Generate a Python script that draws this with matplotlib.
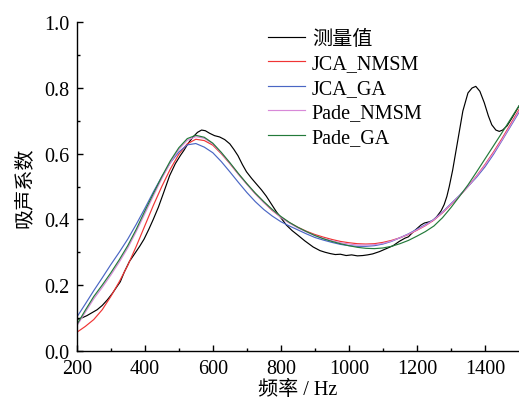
import numpy as np
import matplotlib
matplotlib.use('Agg')
import matplotlib.pyplot as plt

plt.rcParams['font.family'] = ['Liberation Serif', 'Noto Sans CJK SC']
plt.rcParams['font.size'] = 14.5
plt.rcParams['axes.unicode_minus'] = False

# measured curve
meas_f = [200, 215, 230, 245, 260, 275, 290, 305, 318, 328, 340, 355, 370, 385,
          398, 412, 425, 440, 455, 473, 490, 505, 515, 528, 542, 555, 567, 578,
          591, 605, 620, 635, 650, 662, 674, 687, 699, 714, 728, 743, 757, 772,
          787, 800, 816, 833, 850, 870, 895, 915, 930, 945, 960, 975, 992, 1008,
          1025, 1041, 1055, 1070, 1090, 1110, 1130, 1148, 1165, 1175, 1188, 1200,
          1212, 1222, 1234, 1246, 1258, 1271, 1280, 1288, 1295, 1305, 1315, 1325,
          1335, 1350, 1362, 1373, 1385, 1398, 1410, 1420, 1432, 1442, 1452, 1465,
          1480, 1500]
meas = [0.095, 0.100, 0.107, 0.116, 0.125, 0.138, 0.155, 0.175, 0.195, 0.210,
        0.240, 0.272, 0.295, 0.318, 0.340, 0.370, 0.400, 0.437, 0.480, 0.533,
        0.570, 0.595, 0.610, 0.632, 0.651, 0.665, 0.672, 0.670, 0.662, 0.655,
        0.651, 0.643, 0.630, 0.613, 0.594, 0.567, 0.545, 0.525, 0.508, 0.490,
        0.471, 0.447, 0.423, 0.405, 0.383, 0.366, 0.352, 0.335, 0.316, 0.305,
        0.300, 0.296, 0.293, 0.294, 0.290, 0.292, 0.289, 0.290, 0.292, 0.295,
        0.302, 0.311, 0.320, 0.333, 0.343, 0.347, 0.361, 0.372, 0.383, 0.389,
        0.392, 0.396, 0.408, 0.426, 0.445, 0.470, 0.500, 0.550, 0.610, 0.670,
        0.730, 0.785, 0.800, 0.805, 0.790, 0.755, 0.715, 0.688, 0.672, 0.668,
        0.672, 0.685, 0.710, 0.745]

# fitted curves, every 25 Hz
freq = list(range(200, 1501, 25))
jca_nmsm = [0.056, 0.074, 0.095, 0.125, 0.165, 0.210, 0.260, 0.318, 0.380,
            0.442, 0.500, 0.553, 0.598, 0.630, 0.644, 0.640, 0.626, 0.600,
            0.570, 0.538, 0.508, 0.478, 0.452, 0.427, 0.407, 0.390, 0.376,
            0.364, 0.354, 0.346, 0.339, 0.333, 0.329, 0.326, 0.325, 0.326,
            0.330, 0.336, 0.344, 0.354, 0.367, 0.381, 0.398, 0.420, 0.445,
            0.471, 0.500, 0.532, 0.567, 0.605, 0.646, 0.690, 0.734]
jca_ga = [0.102, 0.142, 0.183, 0.222, 0.262, 0.300, 0.340, 0.385, 0.433,
          0.483, 0.530, 0.572, 0.605, 0.627, 0.631, 0.620, 0.603, 0.576,
          0.545, 0.513, 0.482, 0.454, 0.430, 0.410, 0.393, 0.380, 0.368,
          0.356, 0.345, 0.337, 0.330, 0.324, 0.320, 0.318, 0.318, 0.320,
          0.325, 0.333, 0.344, 0.356, 0.370, 0.384, 0.400, 0.422, 0.448,
          0.473, 0.500, 0.528, 0.560, 0.598, 0.640, 0.683, 0.726]
pade_nmsm = [0.075, 0.117, 0.158, 0.193, 0.230, 0.270, 0.313, 0.363, 0.417,
             0.471, 0.524, 0.572, 0.613, 0.641, 0.652, 0.647, 0.630, 0.602,
             0.571, 0.538, 0.507, 0.478, 0.451, 0.428, 0.406, 0.389, 0.374,
             0.362, 0.351, 0.342, 0.335, 0.329, 0.325, 0.322, 0.322, 0.323,
             0.327, 0.334, 0.344, 0.355, 0.368, 0.382, 0.399, 0.421, 0.446,
             0.472, 0.500, 0.531, 0.565, 0.602, 0.642, 0.686, 0.730]
pade_ga = [0.079, 0.123, 0.165, 0.200, 0.237, 0.277, 0.320, 0.370, 0.425,
           0.478, 0.530, 0.578, 0.618, 0.646, 0.656, 0.650, 0.632, 0.604,
           0.573, 0.540, 0.509, 0.480, 0.454, 0.430, 0.409, 0.391, 0.376,
           0.363, 0.351, 0.341, 0.333, 0.326, 0.320, 0.315, 0.312, 0.311,
           0.313, 0.318, 0.326, 0.336, 0.349, 0.363, 0.380, 0.405, 0.436,
           0.470, 0.505, 0.544, 0.584, 0.624, 0.664, 0.705, 0.746]

fig = plt.figure(figsize=(5.19, 4.02), dpi=100)
ax = fig.add_axes([0.1478, 0.1249, 0.8522, 0.8171])

lw = 0.85
ax.plot(meas_f, meas, color='black', lw=lw, label='测量值')
ax.plot(freq, jca_nmsm, color='#F03434', lw=lw, label='JCA_NMSM')
ax.plot(freq, jca_ga, color='#4A66C4', lw=lw, label='JCA_GA')
ax.plot(freq, pade_nmsm, color='#D889D8', lw=lw, label='Pade_NMSM')
ax.plot(freq, pade_ga, color='#237A3A', lw=lw, label='Pade_GA')

ax.set_xlim(200, 1500)
ax.set_ylim(0, 1.0)
ax.set_xticks(np.arange(200, 1401, 200))
ax.set_xticks(np.arange(300, 1400, 200), minor=True)
ax.set_yticks(np.arange(0, 1.01, 0.2))
ax.set_yticks(np.arange(0.1, 1.0, 0.2), minor=True)
ax.yaxis.set_major_formatter(matplotlib.ticker.FormatStrFormatter('%.1f'))

ax.spines['top'].set_visible(False)
ax.spines['right'].set_visible(False)
for s in ['left', 'bottom']:
    ax.spines[s].set_linewidth(1.0)
ax.tick_params(which='major', direction='in', length=4.3, width=1.0)
ax.tick_params(axis='x', which='major', pad=6)
ax.tick_params(axis='y', which='major', pad=5)
ax.tick_params(which='minor', direction='in', length=2.3, width=1.0)

ax.set_xlabel('频率 / Hz', labelpad=1.5)
ax.set_ylabel('吸声系数', labelpad=7.5)

ax.legend(loc='upper left', bbox_to_anchor=(0.4325, 0.978), frameon=False,
          borderaxespad=0, borderpad=0, handlelength=1.85, handletextpad=0.33,
          labelspacing=0.27)

fig.savefig('out.png', dpi=100)
